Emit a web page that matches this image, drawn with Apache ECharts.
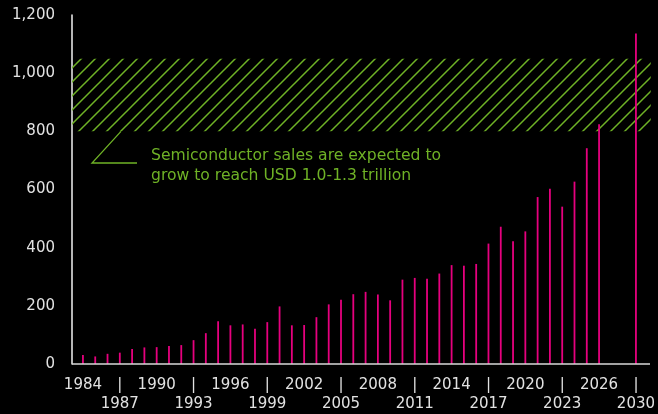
<!DOCTYPE html>
<html>
<head>
<meta charset="utf-8">
<script src="https://cdn.jsdelivr.net/npm/echarts@6/dist/echarts.min.js"></script>
<style>
html,body{margin:0;padding:0;background:#000;}
#chart{width:658px;height:414px;}
</style>
</head>
<body>
<div id="chart"></div>
<script>
// Categories (two blank slots before 2030 form the gap)
const years = ['1984','1985','1986','1987','1988','1989','1990','1991','1992','1993','1994','1995','1996','1997','1998','1999','2000','2001','2002','2003','2004','2005','2006','2007','2008','2009','2010','2011','2012','2013','2014','2015','2016','2017','2018','2019','2020','2021','2022','2023','2024','2025','2026','',' ','2030'];
// Semiconductor sales, USD billion
const sales = [31,26,35,39,52,57,58,62,65,82,106,147,133,136,121,144,198,133,134,161,205,221,240,248,239,219,290,296,293,311,340,338,344,414,472,422,456,574,603,541,627,742,824,null,null,1136];
// Y-axis ticks
const yMin = 0, yMax = 1200, yStep = 200;
// Expected range band
const bandLow = 800, bandHigh = 1050;
const noteText = 'Semiconductor sales are expected to\ngrow to reach USD 1.0-1.3 trillion';

const GREEN = '#6fb226';
const MAGENTA = '#e6007e';
const LABEL = '#e2e2e2';

const chart = echarts.init(document.getElementById('chart'), null, {renderer:'canvas'});

chart.setOption({
  backgroundColor: '#000',
  animation: false,
  grid: {left: 76.8, top: 15, width: 567.2, height: 351, containLabel: false},
  xAxis: {
    type: 'category',
    data: years,
    boundaryGap: true,
    axisLine: {show: false},
    axisTick: {show: false},
    axisLabel: {
      interval: 0,
      hideOverlap: false,
      margin: 12,
      color: LABEL,
      fontFamily: 'DejaVu Sans',
      fontSize: 15,
      lineHeight: 19,
      formatter: function (value, index) {
        if (index % 3 !== 0) return '';
        const k = index / 3;
        return (k % 2 === 0) ? (value + '\n ') : ('|\n' + value);
      }
    }
  },
  yAxis: {
    type: 'value',
    min: yMin, max: yMax, interval: yStep,
    offset: 4.8,
    splitLine: {show: false},
    axisTick: {show: false},
    axisLine: {show: true, lineStyle: {color: '#f2f2f2', width: 1.5}},
    axisLabel: {
      margin: 17,
      color: LABEL,
      fontFamily: 'DejaVu Sans',
      fontSize: 15,
      formatter: v => v.toLocaleString('en-US')
    }
  },
  series: [{
    type: 'bar',
    data: sales,
    barWidth: 1.8,
    itemStyle: {color: MAGENTA},
    z: 5
  }]
});

// hatch pattern
const tile = document.createElement('canvas');
tile.width = 14; tile.height = 14;
const c = tile.getContext('2d');
c.strokeStyle = GREEN;
c.lineWidth = 1.5;
c.beginPath();
c.moveTo(-1, 15); c.lineTo(15, -1);
c.moveTo(-1, 1); c.lineTo(1, -1);
c.moveTo(13, 15); c.lineTo(15, 13);
c.stroke();

const yHigh = chart.convertToPixel({yAxisIndex: 0}, bandHigh);
const yLow = chart.convertToPixel({yAxisIndex: 0}, bandLow);
const y0 = chart.convertToPixel({yAxisIndex: 0}, 0);

chart.setOption({
  graphic: [
    {
      type: 'rect', z: 1, silent: true,
      shape: {x: 72, y: yHigh, width: 578.7, height: yLow - yHigh},
      style: {fill: {image: tile, repeat: 'repeat'}}
    },
    {
      type: 'line', z: 6, silent: true,
      shape: {x1: 72, y1: y0, x2: 650, y2: y0},
      style: {stroke: '#d8d8d8', lineWidth: 1.5}
    },
    {
      type: 'polyline', z: 6, silent: true,
      shape: {points: [[137, 163], [92, 163], [121, yLow]]},
      style: {stroke: GREEN, lineWidth: 1.3, fill: null}
    },
    {
      type: 'text', z: 6, silent: true,
      x: 151, y: 146,
      style: {
        text: noteText,
        fill: GREEN,
        font: '15.6px "DejaVu Sans"',
        lineHeight: 20,
        verticalAlign: 'top',
        align: 'left'
      }
    }
  ]
});
</script>
</body>
</html>
